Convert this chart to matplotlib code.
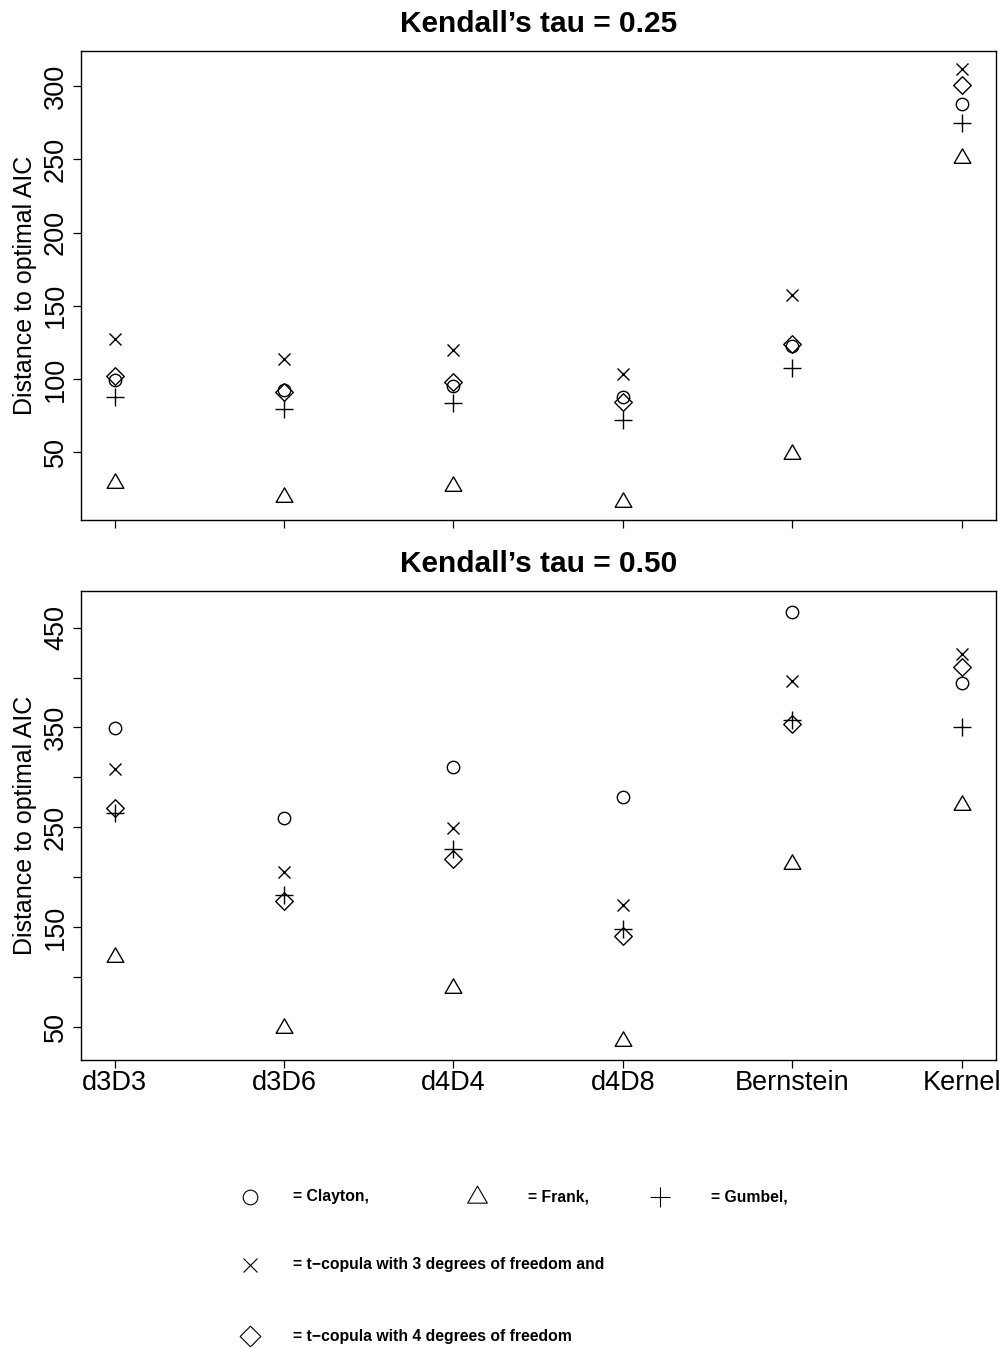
import numpy as np
import matplotlib
matplotlib.use("Agg")
import matplotlib.pyplot as plt
from matplotlib.path import Path

plt.rcParams['font.family'] = ['Liberation Sans', 'DejaVu Sans']
plt.rcParams['axes.xmargin'] = 0.04
plt.rcParams['axes.ymargin'] = 0.04

# ---------------- data ----------------
categories = ["d3D3", "d3D6", "d4D4", "d4D8", "Bernstein", "Kernel"]

# Kendall's tau = 0.25
clayton_025 = [99.4, 92.5, 95.5, 88.0, 122.6, 287.7]
frank_025 = [29.0, 19.3, 27.3, 15.9, 48.8, 250.8]
gumbel_025 = [87.5, 79.4, 83.9, 72.0, 107.3, 275.0]
t3_025 = [127.1, 113.7, 119.8, 103.2, 157.1, 311.4]
t4_025 = [102.3, 91.0, 97.8, 84.6, 123.9, 300.7]

# Kendall's tau = 0.50
clayton_050 = [349.8, 259.4, 310.8, 280.7, 465.4, 394.3]
frank_050 = [119.7, 48.9, 88.7, 36.3, 213.2, 272.3]
gumbel_050 = [264.0, 182.2, 228.0, 147.9, 357.5, 350.8]
t3_050 = [308.1, 205.0, 249.0, 172.2, 396.6, 423.7]
t4_050 = [269.7, 176.5, 218.0, 141.2, 353.5, 411.0]

titles = ["Kendall\u2019s tau = 0.25", "Kendall\u2019s tau = 0.50"]
ylabel = "Distance to optimal AIC"
ylim_top = (3.8, 323.9)
ylim_bot = (17.0, 486.7)
yticks_top = [50, 100, 150, 200, 250, 300]
yticks_bot = [50, 100, 150, 200, 250, 300, 350, 400, 450]
yticklabels_bot = ["50", "", "150", "", "250", "", "350", "", "450"]

legend_labels = ["= Clayton,", "= Frank,", "= Gumbel,",
                 "= t\u2212copula with 3 degrees of freedom and",
                 "= t\u2212copula with 4 degrees of freedom"]

# ---------------- markers (R pch style) ----------------
s3 = np.sqrt(3) / 2
TRI = Path([(0, 1), (s3, -0.5), (-s3, -0.5), (0, 1)],
           [Path.MOVETO, Path.LINETO, Path.LINETO, Path.CLOSEPOLY])
DIA = Path([(0, 1), (1, 0), (0, -1), (-1, 0), (0, 1)],
           [Path.MOVETO, Path.LINETO, Path.LINETO, Path.LINETO, Path.CLOSEPOLY])

def marker_specs(r_px):
    r = r_px * 0.72
    return {
        "clayton": dict(marker="o", markersize=2 * r),
        "frank": dict(marker=TRI, markersize=3.11 * r),
        "gumbel": dict(marker="+", markersize=2.83 * r),
        "t3": dict(marker="x", markersize=2 * r),
        "t4": dict(marker=DIA, markersize=2.83 * r),
    }

W, H = 1005, 1347
fig = plt.figure(figsize=(W / 100, H / 100), dpi=100)

def frac(l, t, r, b):
    return [l / W, 1 - b / H, (r - l) / W, (b - t) / H]

ax1 = fig.add_axes(frac(80.8, 51, 995.5, 520))
ax2 = fig.add_axes(frac(80.8, 591, 995.5, 1060))

x = np.arange(1, len(categories) + 1)
specs = marker_specs(6.2)
common = dict(linestyle="none", markerfacecolor="none", markeredgecolor="black",
              markeredgewidth=1.0, color="black")

series_top = {"clayton": clayton_025, "frank": frank_025, "gumbel": gumbel_025,
              "t3": t3_025, "t4": t4_025}
series_bot = {"clayton": clayton_050, "frank": frank_050, "gumbel": gumbel_050,
              "t3": t3_050, "t4": t4_050}

for ax, series in ((ax1, series_top), (ax2, series_bot)):
    for key, vals in series.items():
        ax.plot(x, vals, **specs[key], **common)

for ax, title in ((ax1, titles[0]), (ax2, titles[1])):
    ax.set_title(title, fontsize=21.5, fontweight="bold", pad=13.5)
    for sp in ax.spines.values():
        sp.set_linewidth(1.0)
    ax.set_xticks(x)
    ax.tick_params(axis="both", direction="out", length=5.5, width=0.9, colors="black")
    ax.tick_params(axis="x", pad=1.5, labelsize=19.5)
    ax.tick_params(axis="y", pad=3.0, labelsize=19.5, labelrotation=90)
    ax.set_ylabel(ylabel, fontsize=18, va="baseline")
    ax.yaxis.set_label_coords((32 - 80.8) / 914.7, 0.5)

ax1.set_ylim(*ylim_top)
ax2.set_ylim(*ylim_bot)
ax1.set_xticklabels([])
ax2.set_xticklabels(categories)
ax1.set_yticks(yticks_top)
ax1.set_yticklabels([str(v) for v in yticks_top])
ax2.set_yticks(yticks_bot)
ax2.set_yticklabels(yticklabels_bot)
for ax in (ax1, ax2):
    for lbl in ax.get_yticklabels():
        lbl.set_va("center")

# ---------------- manual legend ----------------
lax = fig.add_axes([0, 0, 1, 1])
lax.set_xlim(0, W)
lax.set_ylim(H, 0)
lax.axis("off")
lspecs = marker_specs(7.3)
lcommon = dict(linestyle="none", markerfacecolor="none", markeredgecolor="black",
               markeredgewidth=0.8)
legend_keys = ["clayton", "frank", "gumbel", "t3", "t4"]
legend_pos = [(250, 293, 1197), (477, 528, 1197), (660, 711, 1197),
              (250, 293, 1265), (250, 293, 1336)]
for key, lab, (mx, tx, yy) in zip(legend_keys, legend_labels, legend_pos):
    lax.plot([mx], [yy], **lspecs[key], **lcommon)
    lax.text(tx, yy, lab, fontsize=11.3, fontweight="bold", va="center", ha="left")

fig.savefig("out.png", dpi=100)
